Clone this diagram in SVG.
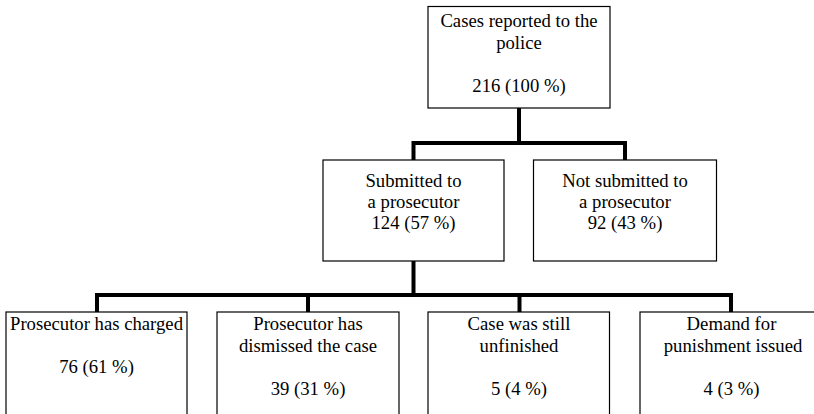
<svg xmlns="http://www.w3.org/2000/svg" width="814" height="414" viewBox="0 0 814 414">
<style>
.box{fill:#fff;stroke:#000;stroke-width:1.2}
.t{font-family:"Liberation Serif","Times New Roman",serif;font-size:18.7px;fill:#000;text-anchor:middle}
.c{fill:none;stroke:#000;stroke-width:4;stroke-linejoin:miter}
</style>
<rect width="814" height="414" fill="#fff"/>
<g id="connectors">
<path class="c" d="M519,108 V143"/>
<path class="c" d="M413.5,160 V143 H625 V160"/>
<path class="c" d="M413.5,261 V295"/>
<path class="c" d="M97,312 V295 H731 V312"/>
<path class="c" d="M308,295 V312"/>
<path class="c" d="M519.5,295 V312"/>
</g>
<g id="n-police">
<rect class="box" x="428" y="6.5" width="182" height="101.5"/>
<text class="t" x="519" y="27">Cases reported to the</text>
<text class="t" x="519" y="48.5">police</text>
<text class="t" x="519" y="91.5">216 (100 %)</text>
</g>
<g id="n-submitted">
<rect class="box" x="323" y="160" width="181" height="101"/>
<text class="t" x="413.5" y="186.5">Submitted to</text>
<text class="t" x="413.5" y="208">a prosecutor</text>
<text class="t" x="413.5" y="229.3">124 (57 %)</text>
</g>
<g id="n-notsubmitted">
<rect class="box" x="533.5" y="160" width="183" height="101"/>
<text class="t" x="625" y="186.5">Not submitted to</text>
<text class="t" x="625" y="208">a prosecutor</text>
<text class="t" x="625" y="229.3">92 (43 %)</text>
</g>
<g id="n-charged">
<rect class="box" x="6" y="312" width="181" height="110"/>
<text class="t" x="96.5" y="330">Prosecutor has charged</text>
<text class="t" x="96.5" y="373">76 (61 %)</text>
</g>
<g id="n-dismissed">
<rect class="box" x="217" y="312" width="182" height="110"/>
<text class="t" x="308" y="330">Prosecutor has</text>
<text class="t" x="308" y="351.5">dismissed the case</text>
<text class="t" x="308" y="394.5">39 (31 %)</text>
</g>
<g id="n-unfinished">
<rect class="box" x="428" y="312" width="181.5" height="110"/>
<text class="t" x="519" y="330">Case was still</text>
<text class="t" x="519" y="351.5">unfinished</text>
<text class="t" x="519" y="394.5">5 (4 %)</text>
</g>
<g id="n-demand">
<rect class="box" x="640" y="312" width="182" height="110"/>
<text class="t" x="731.5" y="330">Demand for</text>
<text class="t" x="733" y="351.5">punishment issued</text>
<text class="t" x="731.5" y="394.5">4 (3 %)</text>
</g>
</svg>
